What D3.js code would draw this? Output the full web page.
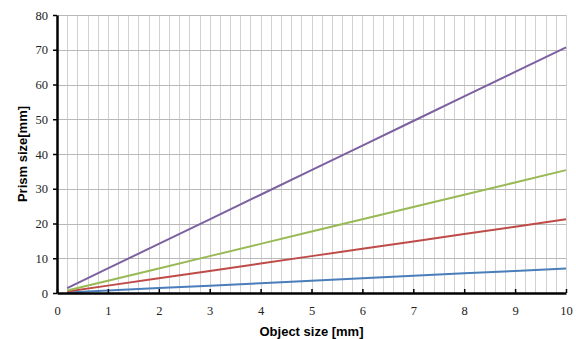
<!DOCTYPE html>
<html>
<head>
<meta charset="utf-8">
<script src="https://cdn.jsdelivr.net/npm/d3@7"></script>
<style>
  body { margin: 0; background: #fff; }
  .tick text { font-family: "Liberation Serif", "Times New Roman", serif; }
</style>
</head>
<body>
<div id="chart"></div>
<script>
// object size [mm]
const objectSize = [0.2, 1, 2, 3, 4, 5, 6, 7, 8, 9, 10];
// prism size [mm] for each series
const seriesBlue   = [0.14, 0.71, 1.41, 2.12, 2.83, 3.54, 4.24, 4.95, 5.66, 6.36, 7.07];
const seriesRed    = [0.42, 2.12, 4.24, 6.36, 8.49, 10.61, 12.73, 14.85, 16.97, 19.09, 21.21];
const seriesGreen  = [0.71, 3.54, 7.07, 10.61, 14.14, 17.68, 21.21, 24.75, 28.28, 31.82, 35.36];
const seriesPurple = [1.41, 7.07, 14.14, 21.21, 28.28, 35.36, 42.43, 49.50, 56.57, 63.64, 70.71];
const seriesColors = ["#4a7ebb", "#be4b48", "#98b954", "#7d60a0"];

const xTicks = d3.range(0, 11, 1);
const yTicks = d3.range(0, 81, 10);
const xMinor = d3.range(0, 10.01, 0.2);

const width = 576, height = 339;
const margin = { top: 15, right: 10, bottom: 46, left: 57 };

const svg = d3.select("#chart").append("svg")
    .attr("width", width)
    .attr("height", height);

const x = d3.scaleLinear([0, 10], [margin.left, width - margin.right]);
const y = d3.scaleLinear([0, 80], [height - margin.bottom, margin.top]);

// minor vertical grid
svg.append("g")
    .selectAll("line")
    .data(xMinor.slice(1))
    .join("line")
    .attr("x1", d => Math.round(x(d)) + 0.5)
    .attr("x2", d => Math.round(x(d)) + 0.5)
    .attr("y1", y(80))
    .attr("y2", y(0))
    .attr("stroke", "#d0d0d0")
    .attr("stroke-width", 1);

// horizontal grid
svg.append("g")
    .selectAll("line")
    .data(yTicks.slice(1))
    .join("line")
    .attr("x1", x(0))
    .attr("x2", x(10))
    .attr("y1", d => Math.round(y(d)) + 0.5)
    .attr("y2", d => Math.round(y(d)) + 0.5)
    .attr("stroke", "#b8b8b8")
    .attr("stroke-width", 1);

// series
const series = [seriesBlue, seriesRed, seriesGreen, seriesPurple];
const line = d3.line()
    .x((d, i) => x(objectSize[i]))
    .y(d => y(d));

svg.append("g")
    .selectAll("path")
    .data(series)
    .join("path")
    .attr("d", d => line(d))
    .attr("fill", "none")
    .attr("stroke", (d, i) => seriesColors[i])
    .attr("stroke-width", 2);

// x axis
const gx = svg.append("g")
    .attr("transform", `translate(0,${y(0)})`)
    .call(d3.axisBottom(x).tickValues(xTicks).tickSizeInner(-4).tickSizeOuter(0).tickPadding(13))
    .call(g => g.select(".domain").attr("stroke", "#000").attr("stroke-width", 2.5));
gx.selectAll(".tick line").attr("stroke", "#000").attr("stroke-width", 1.5);
gx.selectAll(".tick text")
    .style("font-family", "'Liberation Serif', 'Times New Roman', serif")
    .style("font-size", "12.5px")
    .attr("fill", "#222");

// y axis
const gy = svg.append("g")
    .attr("transform", `translate(${x(0)},0)`)
    .call(d3.axisLeft(y).tickValues(yTicks).tickSizeInner(4).tickSizeOuter(0).tickPadding(5))
    .call(g => g.select(".domain").attr("stroke", "#000").attr("stroke-width", 2.5));
gy.selectAll(".tick line").attr("stroke", "#000").attr("stroke-width", 1.5);
gy.selectAll(".tick text")
    .style("font-family", "'Liberation Serif', 'Times New Roman', serif")
    .style("font-size", "12.5px")
    .attr("fill", "#222");

// axis titles
svg.append("text")
    .attr("x", (x(0) + x(10)) / 2)
    .attr("y", 336)
    .attr("text-anchor", "middle")
    .attr("font-family", "'Liberation Sans', Arial, sans-serif")
    .attr("font-weight", "bold")
    .attr("font-size", 13)
    .text("Object size [mm]");

svg.append("text")
    .attr("transform", `translate(27,${(y(0) + y(80)) / 2}) rotate(-90)`)
    .attr("text-anchor", "middle")
    .attr("font-family", "'Liberation Sans', Arial, sans-serif")
    .attr("font-weight", "bold")
    .attr("font-size", 13)
    .text("Prism size[mm]");
</script>
</body>
</html>
